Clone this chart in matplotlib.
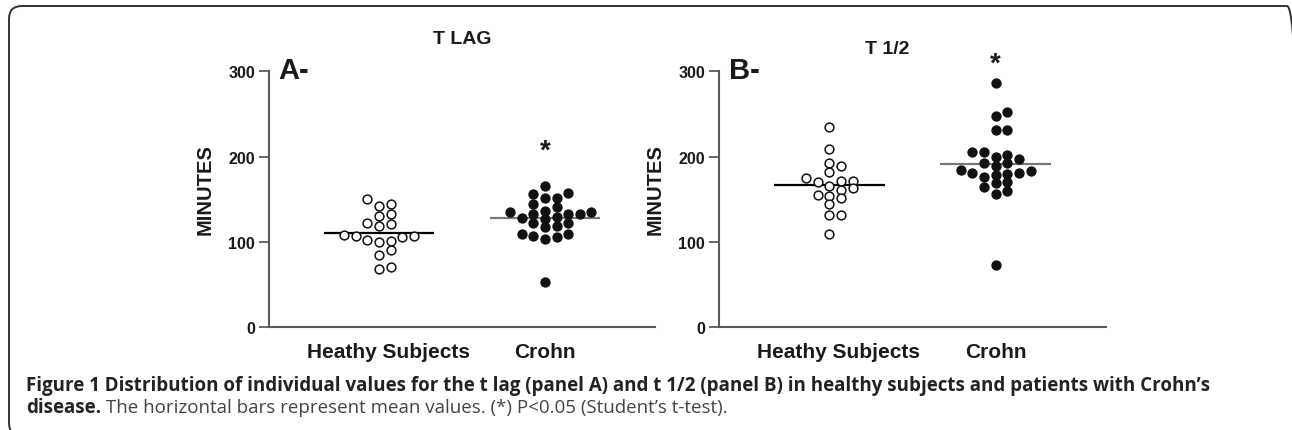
import numpy as np
import matplotlib
matplotlib.use('Agg')
import matplotlib.pyplot as plt
import matplotlib.transforms as mtransforms
from matplotlib.patches import FancyBboxPatch

# ---------------- data (minutes) ----------------
groups = ["Heathy Subjects", "Crohn"]

tlag_healthy = [150.2, 144, 142, 130, 133, 120.7, 118, 122, 108, 107,
                102.4, 99.7, 101, 106, 106.7, 90, 84, 68.3, 70.6]
tlag_crohn = [165.7, 156, 151.3, 151.7, 157, 144, 136.6, 134.6, 128.8, 127,
              133, 132.3, 133, 135, 141, 127.3, 121.5, 117.2, 118.7, 122.6,
              108.7, 105.5, 103.2, 107, 108.7, 52.8]

thalf_healthy = [234.7, 208.7, 192, 189.3, 181.9, 174.9, 171.8, 169.8, 171.8,
                 166, 162.8, 160.9, 153.9, 154.7, 151.6, 144.6, 131.8, 131,
                 108.8]
thalf_crohn = [286.8, 252.6, 248, 231.6, 230.9, 204.8, 202, 197.4, 199.8,
               204.8, 192, 188.9, 192, 181, 179.2, 176.4, 183.8, 178.8, 181,
               182.7, 170.2, 169, 164, 160, 155.8, 73]

panel_titles = ["T LAG", "T 1/2"]
panel_letters = ["A-", "B-"]
star_y = [207, 309]   # where the "*" sits for the Crohn group
yticks = [0, 100, 200, 300]

caption_bold1 = ("Figure 1 Distribution of individual values for the t lag (panel A) "
                 "and t 1/2 (panel B) in healthy subjects and patients with Crohn\u2019s")
caption_bold2 = "disease."
caption_rest = (" The horizontal bars represent mean values. (*) P<0.05 "
                "(Student\u2019s t-test).")


def swarm_offsets(values, step, min_dy):
    """Simple grid beeswarm: put each point in the nearest free column."""
    values = np.asarray(values, dtype=float)
    slots = np.zeros(len(values))
    placed = []
    cands = [0]
    for k in range(1, 10):
        cands += [k, -k]
    for i in np.argsort(values):
        y = values[i]
        for c in cands:
            if all(abs(y - py) >= min_dy for ps, py in placed if ps == c):
                slots[i] = c
                placed.append((c, y))
                break
    return slots * step


plt.rcParams['font.family'] = ['Liberation Sans', 'DejaVu Sans']
fig = plt.figure(figsize=(12.92, 4.31), dpi=100)

W, H = 1292.0, 431.0
axes_px = [(269, 655), (719, 1106)]
top_px, bot_px = 72.3, 328
title_pos = [(0.5, 1.11), (0.435, 1.07)]

datasets = [(tlag_healthy, tlag_crohn), (thalf_healthy, thalf_crohn)]
spine_col = "#5a5a5a"
txt_col = "#1a1a1a"

for p, (healthy, crohn) in enumerate(datasets):
    x0, x1 = axes_px[p]
    ax = fig.add_axes([x0 / W, 1 - bot_px / H, (x1 - x0) / W, (bot_px - top_px) / H])
    ax.set_xlim(-0.663, 1.663)
    ax.set_ylim(0, 300)

    for g, (vals, face, mcol) in enumerate([(healthy, "white", "black"),
                                             (crohn, "#111111", "#777777")]):
        off = swarm_offsets(vals, 0.07, 9.0)
        ax.scatter(g + off, vals, s=40, facecolor=face, edgecolor="#111111",
                   linewidth=1.1, zorder=3, clip_on=False)
        m = np.mean(vals)
        ax.hlines(m, g - 0.333, g + 0.333, color=mcol, linewidth=1.6, zorder=2)

    ax.text(1, star_y[p], "*", ha="center", va="center", fontsize=20,
            fontweight="bold", color=txt_col)

    ax.set_yticks(yticks)
    ax.set_yticklabels([str(t) for t in yticks], fontsize=11.5, fontweight="bold",
                       color=txt_col)
    ax.set_xticks([0, 1])
    ax.set_xticklabels(groups, fontsize=15, fontweight="bold", color=txt_col)
    ax.tick_params(axis="x", length=0, pad=11)
    ax.tick_params(axis="y", length=7, width=1.3, color=spine_col, pad=3)
    # first group label sits a little right of its column in the original
    lab0 = ax.get_xticklabels()[0]
    lab0.set_transform(lab0.get_transform() +
                       mtransforms.ScaledTranslation(0.09, 0, fig.dpi_scale_trans))
    for s in ["top", "right"]:
        ax.spines[s].set_visible(False)
    for s in ["left", "bottom"]:
        ax.spines[s].set_color(spine_col)
        ax.spines[s].set_linewidth(1.5)

    ax.set_ylabel("MINUTES", fontsize=14.5, fontweight="bold", color=txt_col)
    ax.yaxis.set_label_coords(-0.14, 0.54)

    ax.text(title_pos[p][0], title_pos[p][1], panel_titles[p], transform=ax.transAxes,
            ha="center", va="baseline", fontsize=14, fontweight="bold",
            color=txt_col)
    ax.text(0.025, 0.975, panel_letters[p], transform=ax.transAxes,
            ha="left", va="baseline", fontsize=21, fontweight="bold",
            color=txt_col)

# caption
cap_font = ['Open Sans', 'DejaVu Sans']
cap_size = 13.5
fig.text(26 / W, 1 - 391 / H, caption_bold1, family=cap_font, fontsize=cap_size,
         fontweight="bold", color="#222222", va="baseline")
t2 = fig.text(26 / W, 1 - 413 / H, caption_bold2, family=cap_font, fontsize=cap_size,
              fontweight="bold", color="#222222", va="baseline")
fig.canvas.draw()
r = fig.canvas.get_renderer()
bb = t2.get_window_extent(r)
fig.text(bb.x1 / W, 1 - 413 / H, caption_rest, family=cap_font, fontsize=cap_size,
         color="#444444", va="baseline")

# rounded frame, only the top-left corner fully visible
frame = FancyBboxPatch((9 / W, -6 / H), (1300 - 9) / W, (431 - 7 + 6) / H,
                       boxstyle="round,pad=0,rounding_size=0.01",
                       transform=fig.transFigure, fill=False,
                       edgecolor="#333333", linewidth=1.4, clip_on=False,
                       mutation_aspect=W / H)
fig.patches.append(frame)

fig.savefig("out.png", dpi=100)
